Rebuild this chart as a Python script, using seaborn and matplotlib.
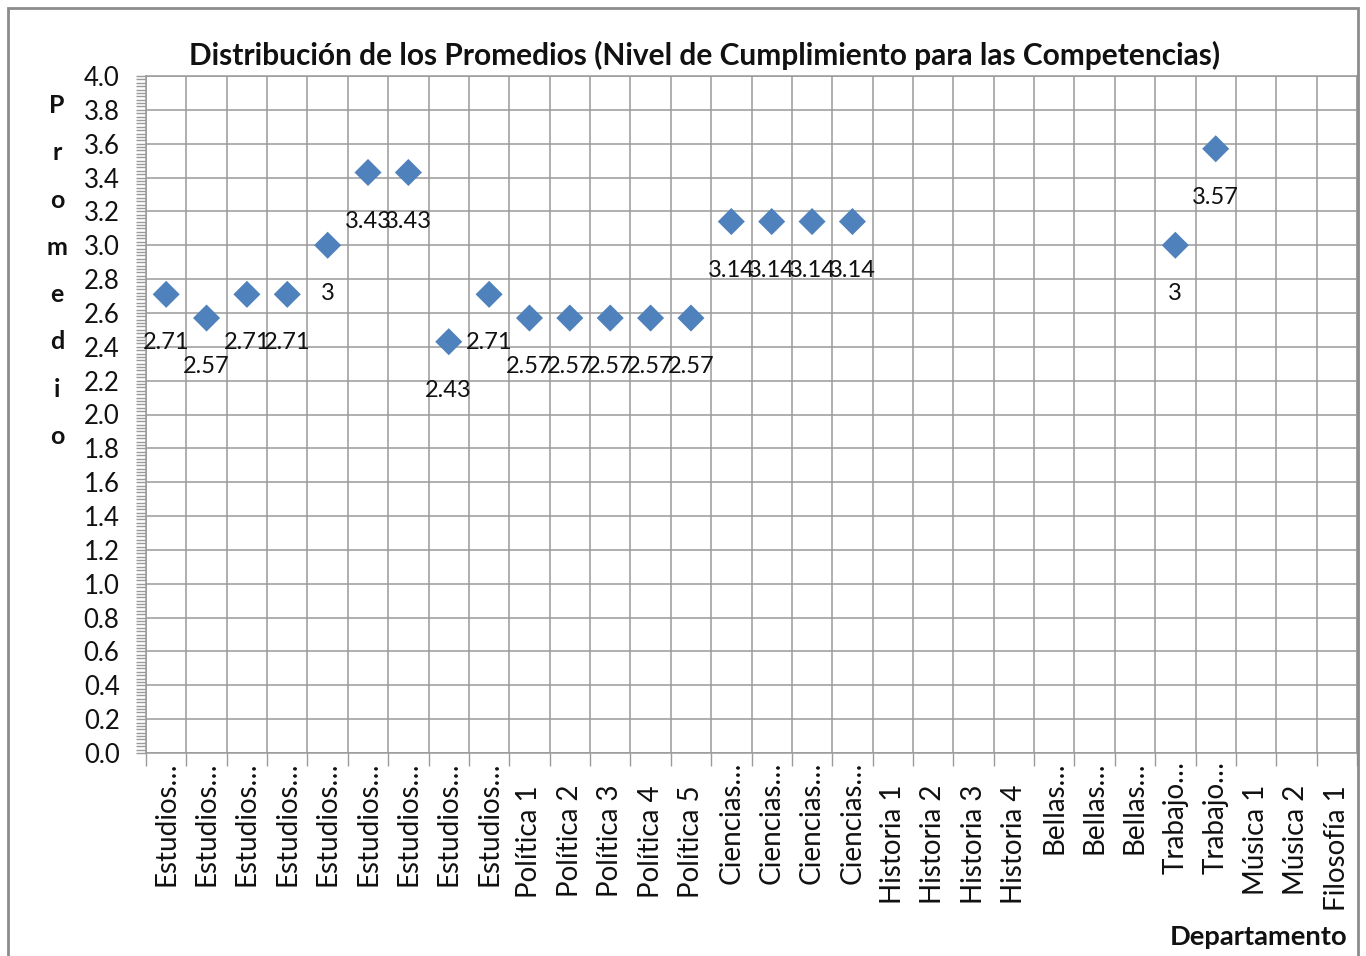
import numpy as np
import pandas as pd
import seaborn as sns
import matplotlib.pyplot as plt
from matplotlib.patches import Rectangle
from matplotlib.ticker import MultipleLocator, FixedLocator

# Datos del grafico
departamentos = (
    ["Estudios\u2026"] * 9
    + ["Política 1", "Política 2", "Política 3", "Política 4", "Política 5"]
    + ["Ciencias\u2026"] * 4
    + ["Historia 1", "Historia 2", "Historia 3", "Historia 4"]
    + ["Bellas\u2026"] * 3
    + ["Trabajo\u2026"] * 2
    + ["Música 1", "Música 2", "Filosofía 1"]
)
promedios = [
    2.71, 2.57, 2.71, 2.71, 3.0, 3.43, 3.43, 2.43, 2.71,
    2.57, 2.57, 2.57, 2.57, 2.57,
    3.14, 3.14, 3.14, 3.14,
    None, None, None, None,
    None, None, None,
    3.0, 3.57,
    None, None, None,
]
y_ticks = np.arange(0, 4.01, 0.2)

TITULO = "Distribución de los Promedios (Nivel de Cumplimiento para las Competencias)"
COLOR_MARCA = "#4F81BD"
COLOR_GRID = "#9a9a9a"
COLOR_TEXTO = "#111111"

sns.set_style("white")
plt.rcParams['font.family'] = ['Lato', 'DejaVu Sans']

df = pd.DataFrame({
    "pos": np.arange(len(departamentos)),
    "depto": departamentos,
    "promedio": pd.Series(promedios, dtype="float"),
})
df_ok = df.dropna()

fig = plt.figure(figsize=(13.66, 9.56), dpi=100)
ax = fig.add_axes([146 / 1366, 1 - 753 / 956, (1357 - 146) / 1366, (753 - 76) / 956])

sns.scatterplot(data=df_ok, x="pos", y="promedio", marker="D", s=190,
                color=COLOR_MARCA, edgecolor="none", ax=ax, zorder=3)

# Etiquetas de datos
for _, row in df_ok.iterrows():
    ax.annotate("{:g}".format(row["promedio"]), (row["pos"], row["promedio"]),
                xytext=(0, -35), textcoords="offset points",
                ha="center", va="center", fontsize=17, color=COLOR_TEXTO, zorder=4)

# Ejes
n = len(departamentos)
ax.set_xlim(-0.5, n - 0.5)
ax.set_ylim(0, 4.0)
ax.set_xticks([])
ax.xaxis.set_minor_locator(FixedLocator(np.arange(n + 1) - 0.5))
ax.set_yticks(y_ticks)
ax.set_yticklabels(["{:.1f}".format(v) for v in y_ticks], fontsize=18.5, color=COLOR_TEXTO)
ax.yaxis.set_minor_locator(MultipleLocator(0.02))
ax.tick_params(axis="x", which="minor", bottom=True, length=9, width=1, color=COLOR_GRID)
ax.tick_params(axis="y", which="both", left=True, length=7, width=1, color=COLOR_GRID, pad=12)
ax.grid(True, axis="y", which="major", color=COLOR_GRID, linewidth=1.1)
ax.grid(True, axis="x", which="minor", color=COLOR_GRID, linewidth=1.1)
ax.set_axisbelow(True)
for sp in ax.spines.values():
    sp.set_color(COLOR_GRID)
    sp.set_linewidth(1.1)
ax.set_xlabel("")
ax.set_ylabel("")

# Rotulos de categorias (los recortados con "…" quedan mas arriba, como en Excel)
for i, etiqueta in enumerate(departamentos):
    desplazamiento = -6 if etiqueta.endswith("\u2026") else -23
    ax.annotate(etiqueta, (i, 0), xycoords=("data", "axes fraction"),
                xytext=(0, desplazamiento), textcoords="offset points",
                rotation=90, ha="center", va="top", fontsize=20,
                color=COLOR_TEXTO, annotation_clip=False)

# Titulo y rotulos
fig.text(705 / 1366, 1 - 55 / 956, TITULO, ha="center", va="center",
         fontsize=21.5, fontweight="bold", color=COLOR_TEXTO)
fig.text(1347 / 1366, 1 - 937 / 956, "Departamento", ha="right", va="center",
         fontsize=19.7, fontweight="bold", color=COLOR_TEXTO)
fig.text(57 / 1366, 1 - 271 / 956, "\n".join("Promedio"), ha="center", va="center",
         multialignment="center", fontsize=18, fontweight="bold",
         linespacing=2.28, color=COLOR_TEXTO)

# Borde del grafico
fig.patches.append(Rectangle((8 / 1366, -0.05), 1350 / 1366, 1.05 - 8 / 956,
                             transform=fig.transFigure, fill=False,
                             edgecolor="#8c8c8c", linewidth=2))

fig.savefig("out.png", dpi=100)
plt.close(fig)
